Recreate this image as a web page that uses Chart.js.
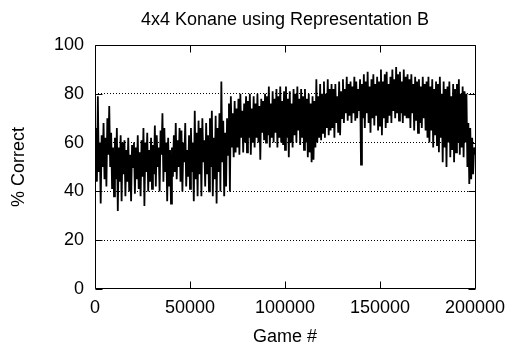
<!DOCTYPE html>
<html><head><meta charset="utf-8">
<script src="https://cdn.jsdelivr.net/npm/chart.js@4/dist/chart.umd.min.js"></script>
<style>html,body{margin:0;padding:0;background:#fff;}#wrap{width:508px;height:342px;}</style>
</head><body><div id="wrap"><canvas id="c" width="508" height="342"></canvas></div>
<script>
const chartTitle = '4x4 Konane using Representation B';
const xTitle = 'Game #';
const yTitle = '% Correct';
const xTicks = [0, 50000, 100000, 150000, 200000];
const yTicks = [0, 20, 40, 60, 80, 100];
const gameStep = 500;

// % correct, one reading every 500 games
const pct0to50k = [
  52,66,44,79,48,60,35,63,50,68,
  45,62,42,70,55,75,50,64,41,58,
  38,62,45,66,32,58,44,63,36,60,
  47,61,38,57,44,62,40,55,36,59,
  50,60,39,58,45,63,41,56,38,61,
  46,66,34,60,48,64,40,57,44,62,
  41,59,47,67,42,63,50,58,40,65,
  55,72,44,66,48,60,36,62,42,57,
  35,58,46,63,48,68,45,61,50,66,
  44,65,40,60,52,68,42,57,46,63
];
const pct50to100k = [
  41,66,48,60,36,73,45,64,38,69,
  47,66,38,70,52,61,42,68,47,63,
  40,70,50,73,38,62,45,71,35,66,
  48,72,40,85,52,69,38,64,42,70,
  55,76,40,79,58,72,54,77,56,74,
  58,78,55,80,62,73,56,76,60,79,
  56,77,62,80,55,74,60,79,58,76,
  62,80,60,75,53,78,64,77,61,80,
  60,79,63,83,58,76,62,81,60,78,
  64,82,58,79,62,83,60,77,59,81
];
const pct100to150k = [
  57,83,62,78,54,81,60,76,58,82,
  63,80,60,83,65,78,59,82,62,79,
  57,82,60,78,54,80,56,76,52,79,
  53,77,58,86,60,79,62,84,61,80,
  64,85,62,80,66,86,63,82,65,84,
  66,82,62,84,68,79,64,85,63,81,
  70,86,68,82,72,87,69,84,71,85,
  68,83,72,87,69,85,70,82,73,86,
  51,84,70,88,66,85,72,89,68,83,
  64,86,70,88,67,84,71,87,65,85
];
const pct150to200k = [
  67,90,63,85,70,88,66,89,68,84,
  71,87,68,90,73,86,70,91,72,88,
  69,89,72,85,68,90,71,87,70,88,
  70,86,66,88,72,84,65,87,69,85,
  64,86,68,83,66,87,70,84,65,85,
  62,87,60,83,65,86,58,82,63,85,
  59,84,56,87,62,80,52,85,58,82,
  50,83,60,85,54,79,57,84,52,82,
  56,84,60,86,55,80,58,83,54,81,
  60,80,50,68,43,66,45,62,47,58,
  55
];

const pctCorrect = [].concat(pct0to50k, pct50to100k, pct100to150k, pct150to200k);
const points = pctCorrect.map((v, i) => ({x: i * gameStep, y: v}));

Chart.defaults.font.family = "'Liberation Sans', Arial, sans-serif";
Chart.defaults.font.size = 18;
Chart.defaults.color = '#000';

const framePlugin = {
  id: 'frame',
  afterDatasetsDraw(chart) {
    const {ctx, chartArea: a, scales: {x, y}} = chart;
    const L = Math.round(a.left) + 0.5, R = Math.round(a.right) + 0.5;
    const T = Math.round(a.top) + 0.5, B = Math.round(a.bottom) - 0.5;
    const tk = 7;
    ctx.save();
    ctx.strokeStyle = '#000';
    ctx.lineWidth = 1;
    ctx.setLineDash([]);
    ctx.beginPath();
    ctx.rect(L, T, R - L, B - T);
    xTicks.forEach(v => {
      const p = Math.round(x.getPixelForValue(v)) + 0.5;
      ctx.moveTo(p, B); ctx.lineTo(p, B - tk);
      ctx.moveTo(p, T); ctx.lineTo(p, T + tk);
    });
    yTicks.forEach(v => {
      const p = Math.round(y.getPixelForValue(v)) + 0.5;
      ctx.moveTo(L, p); ctx.lineTo(L + tk, p);
      ctx.moveTo(R, p); ctx.lineTo(R - tk, p);
    });
    ctx.stroke();
    ctx.restore();
  }
};

new Chart(document.getElementById('c'), {
  type: 'line',
  data: {
    datasets: [{
      data: points,
      borderColor: '#000',
      borderWidth: 1.8,
      pointRadius: 0,
      tension: 0,
      fill: false
    }]
  },
  options: {
    responsive: false,
    animation: false,
    devicePixelRatio: 1,
    layout: {padding: {left: 0, right: 33, top: 0, bottom: 0}},
    plugins: {
      legend: {display: false},
      tooltip: {enabled: false},
      title: {
        display: true,
        text: chartTitle,
        fullSize: false,
        color: '#000',
        font: {size: 18, weight: 'normal'},
        padding: {top: 9, bottom: 14.4}
      }
    },
    scales: {
      x: {
        type: 'linear',
        min: 0, max: 200000,
        afterBuildTicks: s => { s.ticks = xTicks.map(v => ({value: v})); },
        afterFit: s => { s.height = 53; s.paddingLeft = 0; s.paddingRight = 0; },
        ticks: {padding: 8, maxRotation: 0, autoSkip: false, color: '#000', callback: v => String(v)},
        grid: {display: false, drawTicks: false},
        border: {display: false},
        title: {display: true, text: xTitle, color: '#000', font: {size: 18, lineHeight: 1}, padding: {top: 0, bottom: -4.5}}
      },
      y: {
        min: 0, max: 100,
        afterBuildTicks: s => { s.ticks = yTicks.map(v => ({value: v})); },
        afterFit: s => { s.width = 95; s.paddingTop = 0; s.paddingBottom = 0; },
        ticks: {padding: 11, color: '#000'},
        grid: {
          drawTicks: false,
          color: c => (c.tick && (c.tick.value === 0 || c.tick.value === 100)) ? 'rgba(0,0,0,0)' : '#000',
          lineWidth: 1
        },
        border: {display: false, dash: [1, 2]},
        title: {display: true, text: yTitle, color: '#000', font: {size: 18, lineHeight: 1}, padding: {top: 10, bottom: 0}}
      }
    }
  },
  plugins: [framePlugin]
});
</script>
</body></html>
